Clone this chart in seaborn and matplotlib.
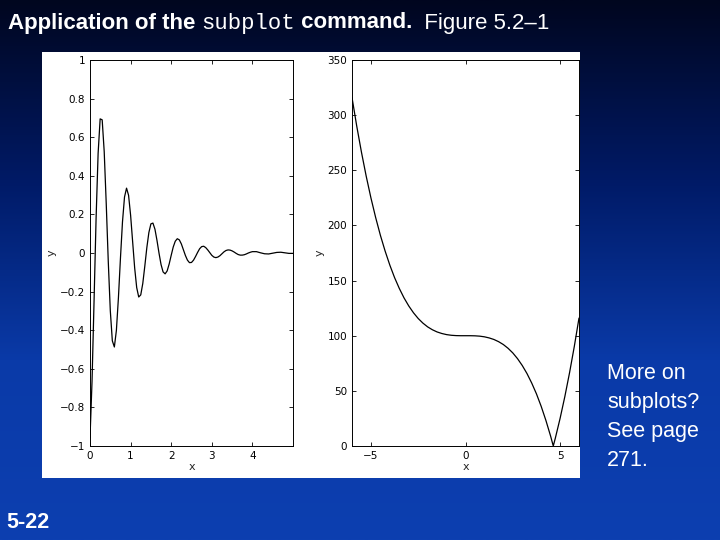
import numpy as np
import matplotlib
matplotlib.use("Agg")
import matplotlib.pyplot as plt
import seaborn as sns
from matplotlib.colors import LinearSegmentedColormap

# Left panel: damped oscillation values
x_left = [0,0.05,0.10,0.15,0.20,0.25,0.30,0.35,0.40,0.45,0.50,0.55,0.60,0.65,0.70,0.75,0.80,0.85,0.90,0.95,
          1.00,1.05,1.10,1.15,1.20,1.25,1.30,1.35,1.40,1.45,1.50,1.55,1.60,1.65,1.70,1.75,1.80,1.85,1.90,1.95,
          2.00,2.05,2.10,2.15,2.20,2.25,2.30,2.35,2.40,2.45,2.50,2.55,2.60,2.65,2.70,2.75,2.80,2.85,2.90,2.95,
          3.00,3.05,3.10,3.15,3.20,3.25,3.30,3.35,3.40,3.45,3.50,3.55,3.60,3.65,3.70,3.75,3.80,3.85,3.90,3.95,
          4.00,4.10,4.20,4.30,4.40,4.50,4.60,4.70,4.80,4.90,5.00]
y_left = [-0.959,-0.664,-0.248,0.180,0.517,0.695,0.690,0.525,0.255,-0.044,-0.299,-0.455,-0.487,-0.401,-0.232,-0.027,0.161,0.290,0.336,0.299,
          0.196,0.059,-0.077,-0.179,-0.228,-0.217,-0.158,-0.068,0.028,0.106,0.151,0.155,0.123,0.065,-0.001,-0.060,-0.098,-0.108,-0.093,-0.057,
          -0.012,0.031,0.061,0.074,0.068,0.047,0.017,-0.013,-0.037,-0.050,-0.049,-0.037,-0.018,0.003,0.022,0.033,0.035,0.028,0.016,0.002,
          -0.012,-0.021,-0.024,-0.021,-0.014,-0.004,0.006,0.013,0.016,0.015,0.011,0.005,-0.002,-0.008,-0.011,-0.011,-0.009,-0.005,0.000,0.004,
          0.007,0.007,0.001,-0.004,-0.005,-0.001,0.003,0.004,0.001,-0.002,-0.002]

# Right panel values
x_right = [-6,-5.75,-5.5,-5.25,-5,-4.75,-4.5,-4.25,-4,-3.75,-3.5,-3.25,-3,-2.75,-2.5,-2.25,-2,-1.75,-1.5,-1.25,-1,-0.75,-0.5,-0.25,
           0,0.25,0.5,0.75,1,1.25,1.5,1.75,2,2.25,2.5,2.75,3,3.25,3.5,3.75,4,4.25,4.5,4.64,4.75,5,5.25,5.5,5.75,6]
y_right = [316,290.1,266.4,244.7,225,207.2,191.1,176.8,164,152.7,142.9,134.3,127,120.8,115.6,111.4,108,105.4,103.4,102.0,101,100.4,100.1,100.0,
           100,100.0,99.9,99.6,99,98.0,96.6,94.6,92,88.6,84.4,79.2,73,65.7,57.1,47.3,36,23.2,8.9,0,7.2,25,44.7,66.4,90.1,116]

left_xticks = [0,1,2,3,4]
left_yticks = [-1,-0.8,-0.6,-0.4,-0.2,0,0.2,0.4,0.6,0.8,1]
left_yticklabels = ["\u22121","\u22120.8","\u22120.6","\u22120.4","\u22120.2","0","0.2","0.4","0.6","0.8","1"]
right_xticks = [-5,0,5]
right_xticklabels = ["\u22125","0","5"]
right_yticks = [0,50,100,150,200,250,300,350]

sns.set_style("white")
W, H = 720, 540
fig = plt.figure(figsize=(7.2,5.4), dpi=100)

bg = fig.add_axes([0,0,1,1])
grad = np.linspace(0,1,256)[:,None]
cmap = LinearSegmentedColormap.from_list("bg", ["#00061f","#001a66","#0a3aa8","#0d3fb0"])
bg.imshow(grad, aspect="auto", cmap=cmap, extent=[0,1,0,1], origin="upper")
bg.axis("off")

def fr(x0,y0,x1,y1):
    return [x0/W, 1-y1/H, (x1-x0)/W, (y1-y0)/H]

panel = fig.add_axes(fr(42,52,580,478))
panel.set_facecolor("white"); panel.set_xticks([]); panel.set_yticks([])
for s in panel.spines.values(): s.set_visible(False)

ax1 = fig.add_axes(fr(90,60,293,446))
sns.lineplot(x=x_left, y=y_left, ax=ax1, color="black", linewidth=0.9)
ax1.set_xlim(0,5); ax1.set_ylim(-1,1)
ax1.set_xticks(left_xticks); ax1.set_yticks(left_yticks); ax1.set_yticklabels(left_yticklabels)

ax2 = fig.add_axes(fr(352,60,579,446))
sns.lineplot(x=x_right, y=y_right, ax=ax2, color="black", linewidth=0.9)
ax2.set_xlim(-6,6); ax2.set_ylim(0,350)
ax2.set_xticks(right_xticks); ax2.set_xticklabels(right_xticklabels); ax2.set_yticks(right_yticks)

for ax in (ax1, ax2):
    ax.set_facecolor("white")
    for s in ax.spines.values():
        s.set_visible(True); s.set_color("black"); s.set_linewidth(0.7)
    ax.tick_params(direction="in", length=3, labelsize=7.5, top=True, right=True, colors="black",
                   bottom=True, left=True, width=0.6)
    ax.set_xlabel("x", fontsize=8, labelpad=1)
    ax.set_ylabel("y", fontsize=8, labelpad=2)

renderer = fig.canvas.get_renderer()
pieces = [("Application of the ", dict(fontweight="bold", family="Liberation Sans", fontsize=16)),
          ("subplot", dict(family="Liberation Mono", fontsize=16)),
          (" command.", dict(fontweight="bold", family="Liberation Sans", fontsize=16)),
          ("  Figure 5.2\u20131", dict(family="Liberation Sans", fontsize=16))]
xpos = 8
for txt, kw in pieces:
    t = fig.text(xpos/W, 1-23/H, txt.replace(" ", "\u00a0"), color="white", va="center", **kw)
    xpos += t.get_window_extent(renderer).width

fig.text(607/W, 1-417/H, "More on\nsubplots?\nSee page\n271.", color="white", fontsize=15.5,
         family="Liberation Sans", va="center", linespacing=1.5)
fig.text(6/W, 1-522/H, "5-22", color="white", fontsize=15.5, fontweight="bold",
         family="Liberation Sans", va="center")

fig.savefig("out.png", dpi=100)
